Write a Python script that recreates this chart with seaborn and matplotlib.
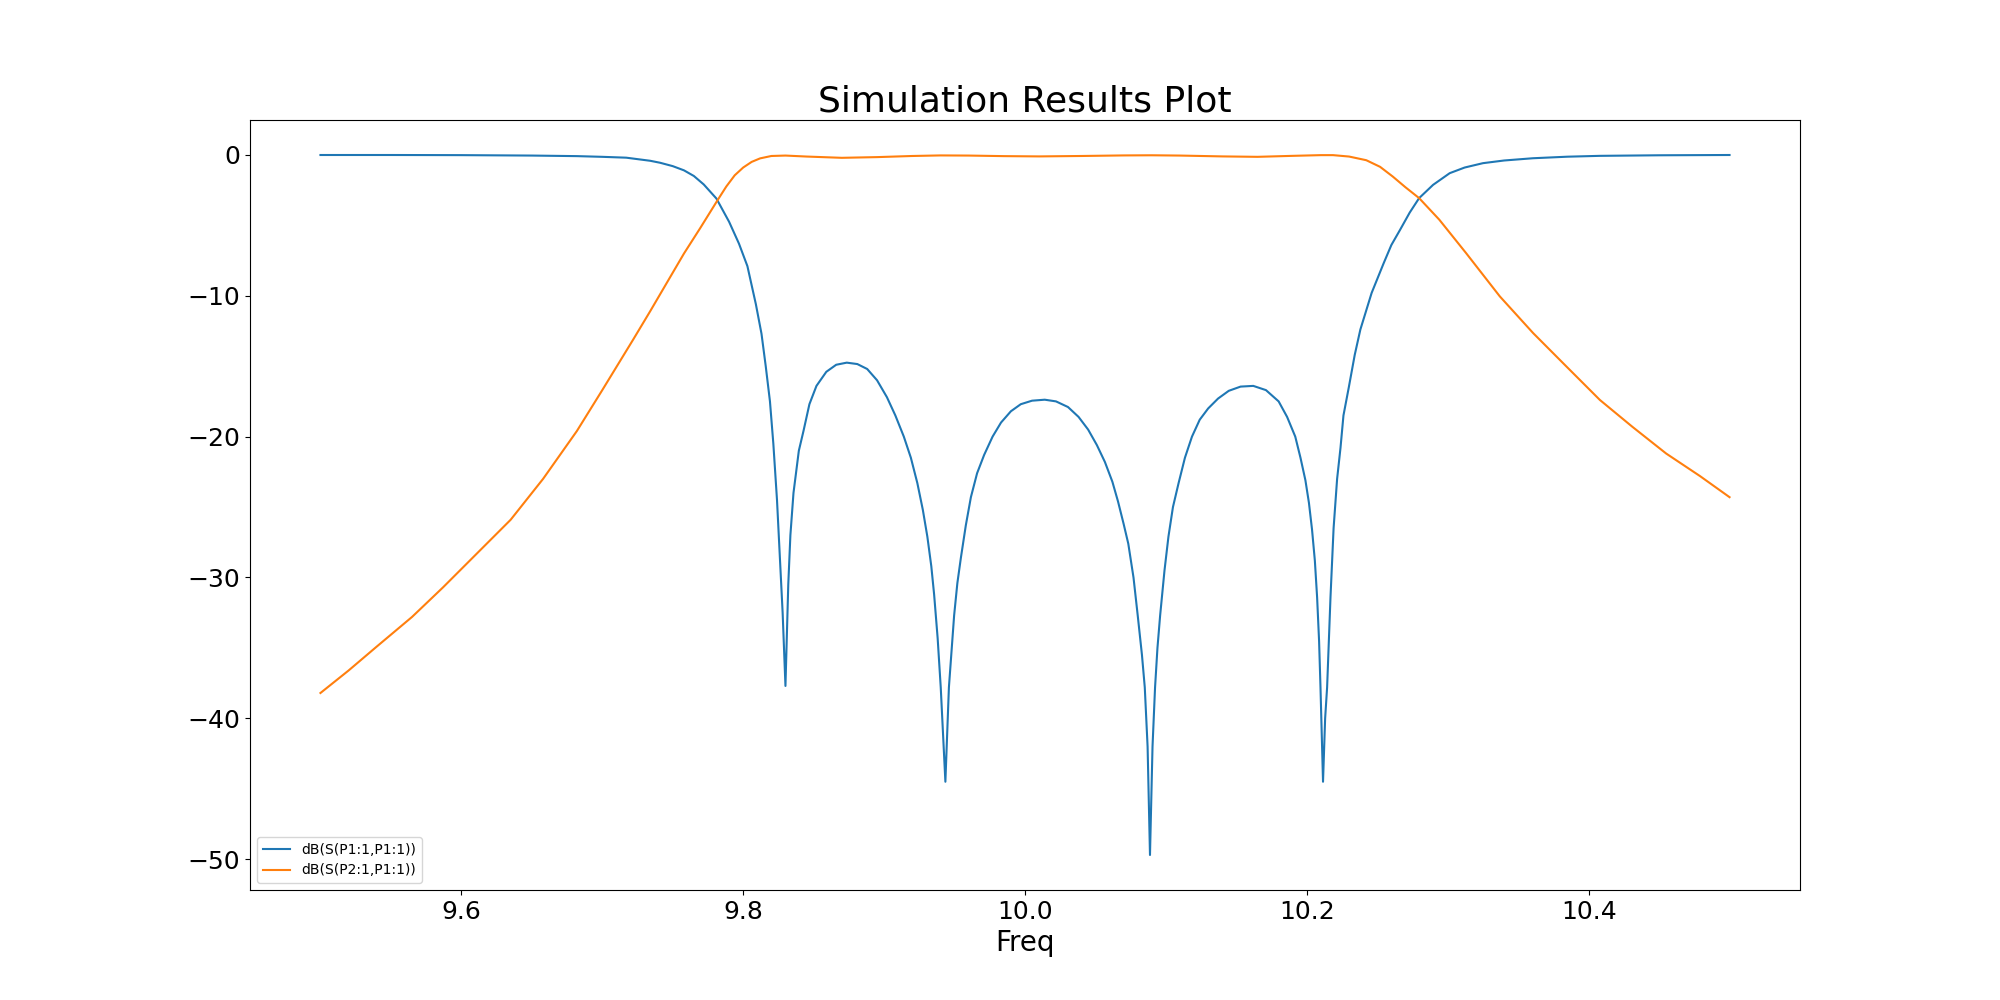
import seaborn as sns
import matplotlib.pyplot as plt
import pandas as pd

# S11 (reflection)
s11_freq = [9.500, 9.550, 9.600, 9.650, 9.682, 9.700, 9.717, 9.734, 9.741, 9.750,
            9.758, 9.765, 9.772, 9.781, 9.790, 9.797, 9.803, 9.809, 9.813, 9.816,
            9.819, 9.8214, 9.824, 9.826, 9.828, 9.830,
            9.832, 9.8335, 9.8357, 9.8395, 9.8428, 9.847, 9.852, 9.859, 9.866, 9.8735,
            9.881, 9.888, 9.895, 9.902, 9.908, 9.914, 9.919, 9.9236, 9.9275, 9.9307,
            9.9335, 9.9355, 9.938, 9.9402, 9.9435,
            9.946, 9.948, 9.9497, 9.952, 9.9545, 9.958, 9.9616, 9.966, 9.971, 9.977,
            9.983, 9.990, 9.997, 10.005, 10.014, 10.022, 10.0305, 10.038, 10.0448, 10.051,
            10.0567, 10.062, 10.066, 10.070, 10.0733, 10.077, 10.080, 10.083, 10.085,
            10.087, 10.0887,
            10.0905, 10.0923, 10.094, 10.0959, 10.099, 10.1018, 10.105, 10.109, 10.1135,
            10.1185, 10.124, 10.130, 10.137, 10.1446, 10.153, 10.162, 10.171, 10.180,
            10.186, 10.1918, 10.1955, 10.199, 10.2015, 10.2037, 10.2057, 10.2073,
            10.2087, 10.2097, 10.2115,
            10.2130, 10.2144, 10.2156, 10.2168, 10.219, 10.2215, 10.2239, 10.226,
            10.2298, 10.234, 10.238, 10.246, 10.2545, 10.260, 10.2663, 10.273, 10.2797,
            10.2896, 10.3014, 10.312, 10.325, 10.340, 10.3605, 10.385, 10.408, 10.45, 10.50]
s11_db = [-0.01, -0.01, -0.02, -0.05, -0.09, -0.14, -0.20, -0.42, -0.56, -0.80,
          -1.10, -1.50, -2.10, -3.10, -4.75, -6.30, -7.90, -10.6, -12.7, -15.0,
          -17.5, -20.5, -24.5, -28.5, -32.5, -37.7,
          -30.5, -27.0, -24.0, -21.0, -19.6, -17.7, -16.4, -15.4, -14.9, -14.75,
          -14.85, -15.2, -16.0, -17.2, -18.5, -20.0, -21.5, -23.3, -25.2, -27.1,
          -29.2, -31.2, -34.3, -37.8, -44.5,
          -37.8, -35.0, -32.7, -30.4, -28.6, -26.3, -24.3, -22.6, -21.3, -20.0,
          -19.0, -18.2, -17.7, -17.45, -17.38, -17.5, -17.9, -18.6, -19.5, -20.6,
          -21.8, -23.2, -24.6, -26.2, -27.6, -30.0, -32.7, -35.5, -37.8,
          -42.0, -49.7,
          -42.0, -37.8, -35.0, -32.7, -29.5, -27.1, -25.0, -23.3, -21.5,
          -20.0, -18.8, -18.0, -17.3, -16.75, -16.45, -16.4, -16.7, -17.5,
          -18.6, -20.0, -21.5, -23.1, -24.7, -26.6, -28.8, -31.4,
          -34.5, -37.8, -44.5,
          -40.0, -37.8, -34.5, -31.4, -26.5, -23.0, -20.8, -18.5,
          -16.5, -14.2, -12.4, -9.8, -7.7, -6.4, -5.3, -4.1, -3.07,
          -2.13, -1.30, -0.90, -0.59, -0.40, -0.24, -0.13, -0.07, -0.03, -0.01]

# S21 (transmission)
s21_freq = [9.500, 9.520, 9.540, 9.565, 9.587, 9.610, 9.635, 9.658, 9.682, 9.700,
            9.722, 9.734, 9.746, 9.758, 9.7695, 9.7813, 9.788, 9.794, 9.800, 9.806,
            9.812, 9.820, 9.830, 9.845, 9.870, 9.895, 9.920, 9.940, 9.960, 9.985,
            10.010, 10.040, 10.070, 10.090, 10.110, 10.140, 10.165, 10.190, 10.210,
            10.2186, 10.230, 10.2422, 10.252, 10.261, 10.270, 10.2797, 10.294, 10.313,
            10.337, 10.3606, 10.384, 10.408, 10.431, 10.455, 10.479, 10.500]
s21_db = [-38.2, -36.6, -34.9, -32.8, -30.7, -28.4, -25.9, -23.0, -19.6, -16.7,
          -13.1, -11.1, -9.05, -7.0, -5.2, -3.3, -2.25, -1.45, -0.9, -0.5,
          -0.25, -0.08, -0.05, -0.12, -0.21, -0.16, -0.08, -0.04, -0.05, -0.09,
          -0.11, -0.08, -0.04, -0.03, -0.05, -0.11, -0.14, -0.07, -0.02,
          -0.02, -0.12, -0.38, -0.85, -1.54, -2.3, -3.07, -4.6, -6.97,
          -10.05, -12.65, -15.0, -17.4, -19.3, -21.2, -22.8, -24.3]

s11 = pd.DataFrame({'Freq': s11_freq, 'dB': s11_db})
s21 = pd.DataFrame({'Freq': s21_freq, 'dB': s21_db})

fig, ax = plt.subplots(figsize=(20, 10), dpi=100)
sns.lineplot(x='Freq', y='dB', data=s11, ax=ax, label='dB(S(P1:1,P1:1))', color='tab:blue')
sns.lineplot(x='Freq', y='dB', data=s21, ax=ax, label='dB(S(P2:1,P1:1))', color='tab:orange')

ax.set_title('Simulation Results Plot', fontsize=26)
ax.set_xlabel('Freq', fontsize=20)
ax.set_ylabel('')
ax.set_xticks([9.6, 9.8, 10.0, 10.2, 10.4])
ax.tick_params(labelsize=18)
ax.legend(loc='lower left', fontsize=10)

plt.savefig('out.png')
